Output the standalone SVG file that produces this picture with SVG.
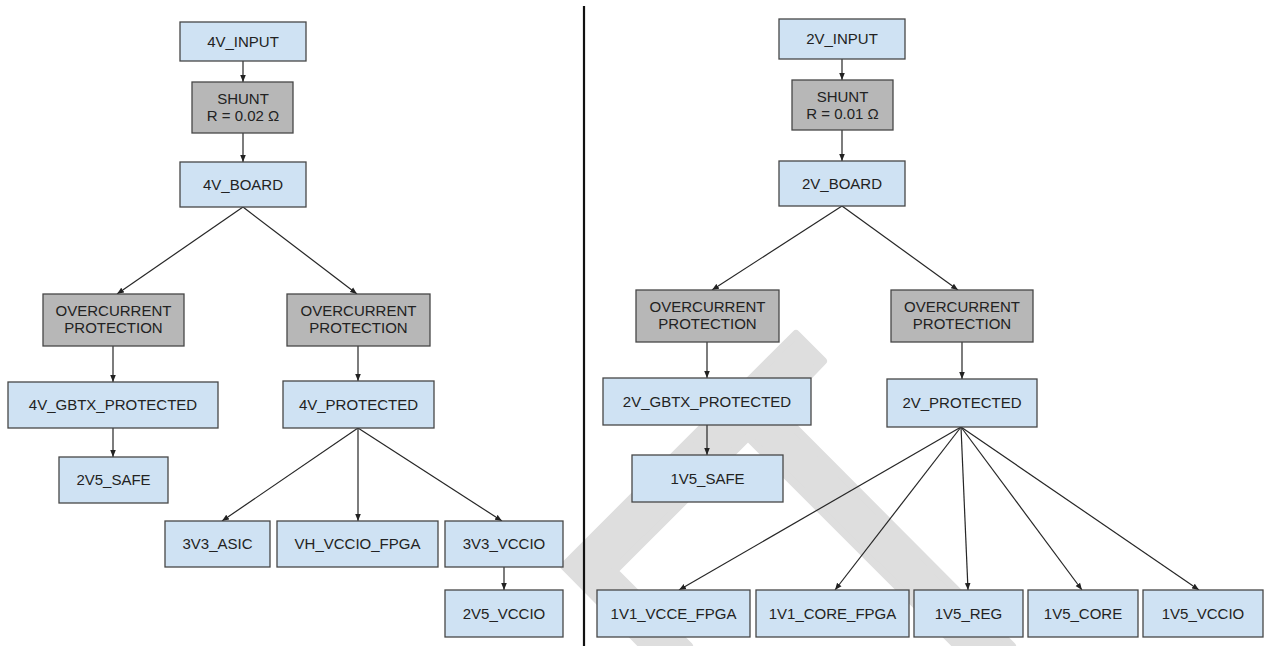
<svg xmlns="http://www.w3.org/2000/svg" width="1266" height="646" viewBox="0 0 1266 646">
  <defs>
    <marker id="arrow" viewBox="0 0 10 10" refX="10" refY="5" markerWidth="7" markerHeight="7" markerUnits="userSpaceOnUse" orient="auto">
      <path d="M0,1 L10,5 L0,9 z" fill="#222"/>
    </marker>
    <style>
      .blue { fill: #cfe2f3; stroke: #474747; stroke-width: 1.3; }
      .grey { fill: #b7b7b7; stroke: #474747; stroke-width: 1.3; }
      text { font-family: "Liberation Sans", Arial, sans-serif; font-size: 15px; fill: #222222; text-anchor: middle; }
      .edge { stroke: #262626; stroke-width: 1.2; fill: none; marker-end: url(#arrow); }
      .mark { fill: #dedede; stroke: #dedede; stroke-width: 8; stroke-linejoin: round; }
    </style>
  </defs>

  <rect width="1266" height="646" fill="#ffffff"/>

  <!-- background watermark band -->
  <polygon class="mark" points="796,334 823,361 776.5,409.5 1012,646 957,646 748,437 614,571 689,646 643,646 564,566"/>

  <!-- divider between the two supply trees -->
  <line x1="584" y1="6" x2="584" y2="646" stroke="#111" stroke-width="2.2"/>

  <g id="connectors">
    <!-- 4V tree -->
    <line class="edge" x1="243" y1="61" x2="243" y2="82"/>
    <line class="edge" x1="243" y1="133" x2="243" y2="162"/>
    <line class="edge" x1="243" y1="207" x2="117" y2="294"/>
    <line class="edge" x1="243" y1="207" x2="357" y2="294"/>
    <line class="edge" x1="113" y1="346" x2="113" y2="382"/>
    <line class="edge" x1="358" y1="346" x2="358" y2="381"/>
    <line class="edge" x1="113" y1="428" x2="113" y2="457"/>
    <line class="edge" x1="358" y1="428" x2="222" y2="521"/>
    <line class="edge" x1="358" y1="428" x2="358" y2="521"/>
    <line class="edge" x1="358" y1="428" x2="502" y2="521"/>
    <line class="edge" x1="504" y1="567" x2="504" y2="590"/>
    <!-- 2V tree -->
    <line class="edge" x1="842" y1="59" x2="842" y2="80"/>
    <line class="edge" x1="842" y1="130" x2="842" y2="161"/>
    <line class="edge" x1="842" y1="206" x2="712" y2="290"/>
    <line class="edge" x1="842" y1="206" x2="958" y2="290"/>
    <line class="edge" x1="707" y1="342" x2="707" y2="378"/>
    <line class="edge" x1="962" y1="342" x2="962" y2="379"/>
    <line class="edge" x1="707" y1="425" x2="707" y2="455"/>
    <line class="edge" x1="961" y1="427" x2="679" y2="590"/>
    <line class="edge" x1="961" y1="427" x2="835" y2="590"/>
    <line class="edge" x1="961" y1="427" x2="968" y2="590"/>
    <line class="edge" x1="961" y1="427" x2="1082" y2="590"/>
    <line class="edge" x1="961" y1="427" x2="1199" y2="590"/>
  </g>

  <!-- 4V tree nodes -->
  <g id="n-4v-input"><rect class="blue" x="180" y="22" width="126" height="39"/><text x="243" y="46.5">4V_INPUT</text></g>
  <g id="n-4v-shunt"><rect class="grey" x="192" y="82" width="101" height="51"/><text x="243" y="104">SHUNT</text><text x="243" y="121">R = 0.02 Ω</text></g>
  <g id="n-4v-board"><rect class="blue" x="180" y="162" width="126" height="45"/><text x="243" y="189.5">4V_BOARD</text></g>
  <g id="n-4v-ocp-gbtx"><rect class="grey" x="43" y="294" width="141" height="52"/><text x="113.5" y="316">OVERCURRENT</text><text x="113.5" y="333">PROTECTION</text></g>
  <g id="n-4v-ocp-main"><rect class="grey" x="287" y="294" width="143" height="52"/><text x="358.5" y="316">OVERCURRENT</text><text x="358.5" y="333">PROTECTION</text></g>
  <g id="n-4v-gbtx-protected"><rect class="blue" x="8" y="382" width="210" height="46"/><text x="113" y="410">4V_GBTX_PROTECTED</text></g>
  <g id="n-4v-protected"><rect class="blue" x="283" y="381" width="151" height="47"/><text x="358.5" y="409.5">4V_PROTECTED</text></g>
  <g id="n-2v5-safe"><rect class="blue" x="59" y="457" width="109" height="46"/><text x="113.5" y="485">2V5_SAFE</text></g>
  <g id="n-3v3-asic"><rect class="blue" x="165" y="521" width="105" height="46"/><text x="217.5" y="549">3V3_ASIC</text></g>
  <g id="n-vh-vccio-fpga"><rect class="blue" x="277" y="521" width="161" height="46"/><text x="357.5" y="549">VH_VCCIO_FPGA</text></g>
  <g id="n-3v3-vccio"><rect class="blue" x="445" y="521" width="118" height="46"/><text x="504" y="549">3V3_VCCIO</text></g>
  <g id="n-2v5-vccio"><rect class="blue" x="445" y="590" width="118" height="47"/><text x="504" y="618.5">2V5_VCCIO</text></g>

  <!-- 2V tree nodes -->
  <g id="n-2v-input"><rect class="blue" x="779" y="19" width="126" height="40"/><text x="842" y="44">2V_INPUT</text></g>
  <g id="n-2v-shunt"><rect class="grey" x="792" y="80" width="101" height="50"/><text x="842.5" y="101.5">SHUNT</text><text x="842.5" y="118.5">R = 0.01 Ω</text></g>
  <g id="n-2v-board"><rect class="blue" x="779" y="161" width="126" height="45"/><text x="842" y="188.5">2V_BOARD</text></g>
  <g id="n-2v-ocp-gbtx"><rect class="grey" x="636" y="290" width="143" height="52"/><text x="707.5" y="312">OVERCURRENT</text><text x="707.5" y="329">PROTECTION</text></g>
  <g id="n-2v-ocp-main"><rect class="grey" x="891" y="290" width="142" height="52"/><text x="962" y="312">OVERCURRENT</text><text x="962" y="329">PROTECTION</text></g>
  <g id="n-2v-gbtx-protected"><rect class="blue" x="603" y="378" width="208" height="47"/><text x="707" y="406.5">2V_GBTX_PROTECTED</text></g>
  <g id="n-2v-protected"><rect class="blue" x="887" y="379" width="150" height="48"/><text x="962" y="408">2V_PROTECTED</text></g>
  <g id="n-1v5-safe"><rect class="blue" x="632" y="455" width="151" height="47"/><text x="707.5" y="483.5">1V5_SAFE</text></g>
  <g id="n-1v1-vcce-fpga"><rect class="blue" x="597" y="590" width="153" height="47"/><text x="673.5" y="618.5">1V1_VCCE_FPGA</text></g>
  <g id="n-1v1-core-fpga"><rect class="blue" x="756" y="590" width="153" height="47"/><text x="832.5" y="618.5">1V1_CORE_FPGA</text></g>
  <g id="n-1v5-reg"><rect class="blue" x="914" y="590" width="109" height="47"/><text x="968.5" y="618.5">1V5_REG</text></g>
  <g id="n-1v5-core"><rect class="blue" x="1028" y="590" width="110" height="47"/><text x="1083" y="618.5">1V5_CORE</text></g>
  <g id="n-1v5-vccio"><rect class="blue" x="1143" y="590" width="120" height="47"/><text x="1203" y="618.5">1V5_VCCIO</text></g>
</svg>
